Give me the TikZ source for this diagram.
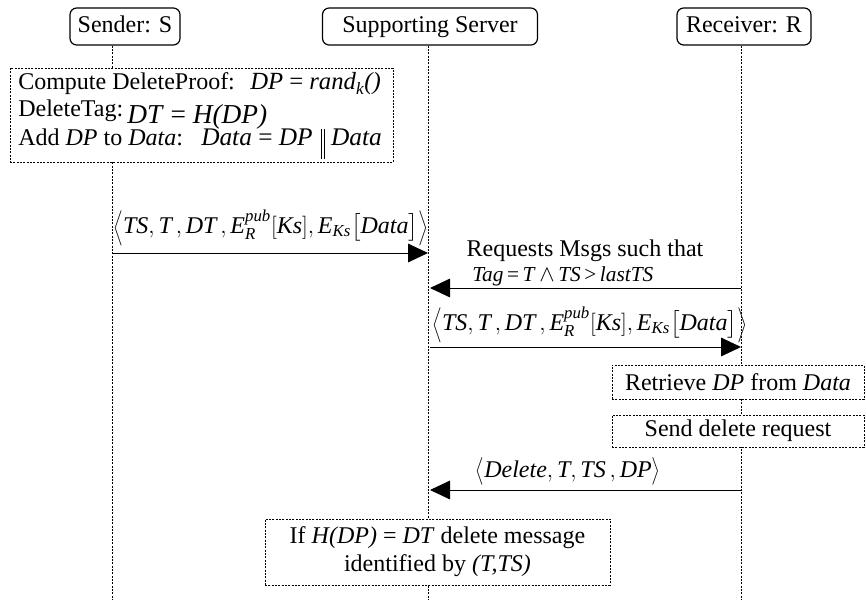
\documentclass[tikz,border=0pt]{standalone}
\usepackage{amsmath}
\usepackage{fontspec}
\setmainfont{Liberation Serif}
\usetikzlibrary{arrows.meta}
\newcommand{\itx}[1]{\textit{#1}}
\newcommand{\LA}{\scalebox{0.7}[0.85]{$\Big\langle$}}
\newcommand{\RA}{\scalebox{0.7}[0.85]{$\Big\rangle$}}
\newcommand{\sLA}{\scalebox{0.8}[1]{$\big\langle$}}
\newcommand{\sRA}{\scalebox{0.8}[1]{$\big\rangle$}}
\newcommand{\dbar}{\rule[-9.5pt]{0.5pt}{22pt}\hspace{1.8pt}\rule[-9.5pt]{0.5pt}{22pt}}
\newcommand{\msgdata}{$\LA\itx{TS}, \itx{T}\,, \itx{DT}\,, \itx{E}_{\itx{R}}^{\itx{pub}}[\itx{Ks}], \itx{E}_{\itx{Ks}}\big[\itx{Data}\big]\RA$}
\tikzset{
  head/.style={draw, line width=0.9pt, rounded corners=5pt, fill=white, inner sep=0pt, minimum height=27.75pt, text height=12.5pt, text depth=3.5pt, font=\fontsize{18}{21}\selectfont},
  lifeline/.style={line width=0.5pt, dash pattern=on 1.5pt off 1pt},
  notebox/.style={draw, line width=0.5pt, dash pattern=on 1.5pt off 1pt, fill=white, inner sep=0pt},
  msg/.style={line width=0.75pt, -{Triangle[length=15pt,width=14pt]}},
  txt/.style={inner sep=0pt, font=\fontsize{18}{21}\selectfont},
}
\begin{document}
\begin{tikzpicture}[x=0.75pt,y=-0.75pt]
\useasboundingbox (0,0) rectangle (866,599);
% lifeline ends
\coordinate (sEnd) at (112,599);
\coordinate (vEnd) at (428,599);
\coordinate (rEnd) at (741,599);
% headers
\node[head, minimum width=82.5pt] (S) at (125,26.5) {Sender: S};
\node[head, minimum width=161.25pt] (V) at (430,26.5) {Supporting Server};
\node[head, minimum width=100.5pt] (R) at (744,26.5) {Receiver: R};
% lifelines
\draw[lifeline] (S.south -| sEnd) -- (sEnd);
\draw[lifeline] (V.south -| vEnd) -- (vEnd);
\draw[lifeline] (R.south -| rEnd) -- (rEnd);
% sender note
\node[notebox, minimum width=287.25pt, minimum height=70.5pt] (N1) at (201.5,115) {};
\node[txt, anchor=base west] (n1a) at (18,90) {Compute DeleteProof:};
\node[txt, anchor=base west, font=\fontsize{18.5}{21}\selectfont] (n1b) at (250,90) {\itx{DP} = \itx{rand}$_{\itx{k}}$\itx{()}};
\node[txt, anchor=base west] (n2a) at (18,117) {DeleteTag:};
\node[txt, anchor=base west, font=\fontsize{20.5}{24}\selectfont] (n2b) at (127,123) {\itx{DT} = \itx{H(DP)}};
\node[txt, anchor=base west] (n3a) at (18,146) {Add \itx{DP} to \itx{Data}:};
\node[txt, anchor=base west, font=\fontsize{19}{22}\selectfont] (n3b) at (201,146) {\itx{Data} = \itx{DP}\hspace{6pt}\dbar\hspace{5pt}\itx{Data}};
% message 1
\coordinate (m1a) at (112,253);
\coordinate (m1b) at (428,253);
\draw[msg] (m1a) -- (m1b);
\node[txt, anchor=base west] (l1) at (113,233) {\msgdata};
% message 2
\coordinate (m2a) at (741,288);
\coordinate (m2b) at (430,288);
\draw[msg] (m2a) -- (m2b);
\node[txt, anchor=base] (l2a) at (585,256) {Requests Msgs such that};
\node[txt, anchor=base west, font=\fontsize{16}{18}\selectfont] (l2b) at (472,281) {\itx{Tag}\,=\,\itx{T}\,$\wedge$\,\itx{TS}\,>\,\itx{lastTS}};
% message 3
\coordinate (m3a) at (430,347);
\coordinate (m3b) at (741,347);
\draw[msg] (m3a) -- (m3b);
\node[txt, anchor=base west] (l3) at (432,330) {\msgdata};
% receiver notes
\node[notebox, minimum width=189pt, minimum height=25.5pt, txt] (N2) at (738,382) {Retrieve \itx{DP} from \itx{Data}};
\node[notebox, minimum width=189pt, minimum height=24pt, txt] (N3) at (738,431) {Send delete request};
% message 4
\coordinate (m4a) at (741,490);
\coordinate (m4b) at (430,490);
\draw[msg] (m4a) -- (m4b);
\node[txt, anchor=base] (l4) at (568,477) {$\sLA\itx{Delete}, \itx{T}, \itx{TS}\,, \itx{DP}\sRA$};
% server note
\node[notebox, minimum width=258.75pt, minimum height=49.5pt, txt, align=center] (N4) at (437.5,552) {If \itx{H(DP)} = \itx{DT} delete message\\identified by \itx{(T,TS)}};
\end{tikzpicture}
\end{document}
